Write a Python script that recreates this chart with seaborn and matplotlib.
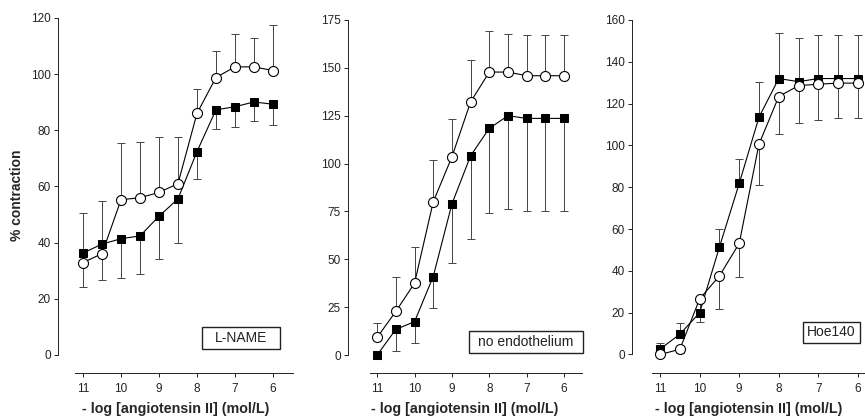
import matplotlib
matplotlib.use("Agg")
import matplotlib.pyplot as plt
from matplotlib.patches import Rectangle
import seaborn as sns
import numpy as np

# -log [angiotensin II] doses shared by all three panels
log_dose = [11, 10.5, 10, 9.5, 9, 8.5, 8, 7.5, 7, 6.5, 6]
x_ticks = [11, 10, 9, 8, 7, 6]

# L-NAME panel: open circles (upper SEM shown), filled squares (lower SEM shown)
lname_open = [32.9, 36.1, 55.3, 56.0, 57.9, 61.0, 86.0, 98.8, 102.6, 102.6, 101.3]
lname_open_hi = [50.7, 54.8, 75.5, 76.0, 77.5, 77.5, 94.8, 108.4, 114.2, 112.9, 117.4]
lname_fill = [36.3, 39.5, 41.4, 42.4, 49.4, 55.6, 72.4, 87.3, 88.4, 90.1, 89.3]
lname_fill_lo = [24.3, 26.7, 27.5, 28.8, 34.1, 39.8, 62.6, 80.5, 81.3, 83.2, 81.8]

# no endothelium panel
noendo_open = [9.2, 22.8, 37.5, 80.0, 103.5, 132.2, 147.8, 147.8, 145.9, 145.9, 145.9]
noendo_open_hi = [16.9, 40.8, 56.6, 102.0, 123.4, 154.3, 169.1, 167.9, 167.0, 167.0, 167.0]
noendo_fill = [0.0, 13.4, 17.4, 41.0, 78.9, 104.1, 118.4, 125.0, 123.6, 123.6, 123.6]
noendo_fill_lo = [0.0, 1.9, 6.1, 24.8, 48.1, 60.5, 74.1, 76.5, 75.3, 75.3, 75.3]

# Hoe140 panel: filled squares (upper SEM), open circles (lower SEM)
hoe_fill = [2.6, 9.7, 20.0, 51.4, 81.8, 113.5, 132.0, 130.5, 132.0, 132.0, 132.0]
hoe_fill_hi = [5.4, 15.3, 20.0, 60.0, 93.3, 130.5, 154.0, 151.5, 153.0, 153.0, 153.0]
hoe_open = [0.0, 2.5, 26.6, 37.6, 53.1, 100.6, 123.4, 128.6, 129.3, 129.8, 129.8]
hoe_open_lo = [0.0, 0.5, 15.4, 21.8, 37.0, 81.0, 105.6, 110.8, 112.1, 112.9, 112.9]

sns.set_theme(style="ticks")
plt.rcParams["font.family"] = ["Liberation Sans", "DejaVu Sans"]

fig = plt.figure(figsize=(8.65, 4.18), dpi=100)
W, H = 865, 418


def make_ax(left_px, right_px, top_px, bottom_px):
    return fig.add_axes([left_px / W, (H - bottom_px) / H,
                         (right_px - left_px) / W, (bottom_px - top_px) / H])


def draw_series(ax, y, err, hi, filled):
    y = np.array(y)
    err = np.array(err)
    if hi:
        yerr = [np.zeros_like(y), err - y]
    else:
        yerr = [y - err, np.zeros_like(y)]
    ax.errorbar(log_dose, y, yerr=yerr, fmt="none", ecolor="#444444",
                elinewidth=0.7, capsize=2.6, capthick=0.7, zorder=2,
                clip_on=False)
    if filled:
        sns.lineplot(x=log_dose, y=y, ax=ax, color="black", lw=0.8,
                     marker="s", markersize=6.4, markerfacecolor="black",
                     markeredgecolor="black", zorder=3, clip_on=False)
    else:
        sns.lineplot(x=log_dose, y=y, ax=ax, color="black", lw=0.8,
                     marker="o", markersize=7.2, markerfacecolor="white",
                     markeredgecolor="black", markeredgewidth=0.8,
                     zorder=4, clip_on=False)


def style_axes(ax, xlim, xbounds, ylim, ymax, ystep, label, box, ylab):
    ax.set_xlim(*xlim)
    ax.set_ylim(*ylim)
    ax.set_xticks(x_ticks)
    ax.set_yticks(np.arange(0, ymax + 1, ystep))
    for s in ["top", "right"]:
        ax.spines[s].set_visible(False)
    ax.spines["left"].set_bounds(0, ymax)
    ax.spines["bottom"].set_bounds(*xbounds)
    for s in ["left", "bottom"]:
        ax.spines[s].set_linewidth(0.7)
        ax.spines[s].set_color("#222222")
    ax.tick_params(axis="both", direction="out", length=3, width=0.7,
                   labelsize=8.5, colors="#222222", pad=2)
    ax.tick_params(axis="x", pad=4)
    ax.set_xlabel("- log [angiotensin II] (mol/L)", fontsize=10.3,
                  fontweight="bold", labelpad=5)
    if ylab:
        ax.set_ylabel("% contraction", fontsize=10, fontweight="bold",
                      labelpad=5)
    else:
        ax.set_ylabel("")
    x0, x1, y0, y1 = box
    ax.add_patch(Rectangle((x0, y0), x1 - x0, y1 - y0, fc="white",
                           ec="#222222", lw=1.0, zorder=5, clip_on=False))
    ax.text((x0 + x1) / 2, (y0 + y1) / 2, label, ha="center", va="center",
            fontsize=10, color="#222222", zorder=6, clip_on=False)


# Panel 1: L-NAME
ax1 = make_ax(58, 293, 18, 373)
draw_series(ax1, lname_fill, lname_fill_lo, False, True)
draw_series(ax1, lname_open, lname_open_hi, True, False)
style_axes(ax1, (11.66, 5.47), (11.21, 5.47), (-6.41, 120), 120, 20,
           "L-NAME", (7.87, 5.82, 2.14, 9.97), True)

# Panel 2: no endothelium
ax2 = make_ax(348, 582, 20, 373)
draw_series(ax2, noendo_fill, noendo_fill_lo, False, True)
draw_series(ax2, noendo_open, noendo_open_hi, True, False)
style_axes(ax2, (11.78, 5.52), (11.19, 5.52), (-9.4, 175), 175, 25,
           "no endothelium", (8.54, 5.49, 1.05, 12.55), False)

# Panel 3: Hoe140
ax3 = make_ax(632, 865, 20, 373)
draw_series(ax3, hoe_open, hoe_open_lo, False, False)
draw_series(ax3, hoe_fill, hoe_fill_hi, True, True)
style_axes(ax3, (11.71, 5.82), (11.2, 5.82), (-8.85, 160), 160, 20,
           "Hoe140", (7.39, 5.95, 5.5, 15.55), False)

fig.savefig("out.png", dpi=100)
